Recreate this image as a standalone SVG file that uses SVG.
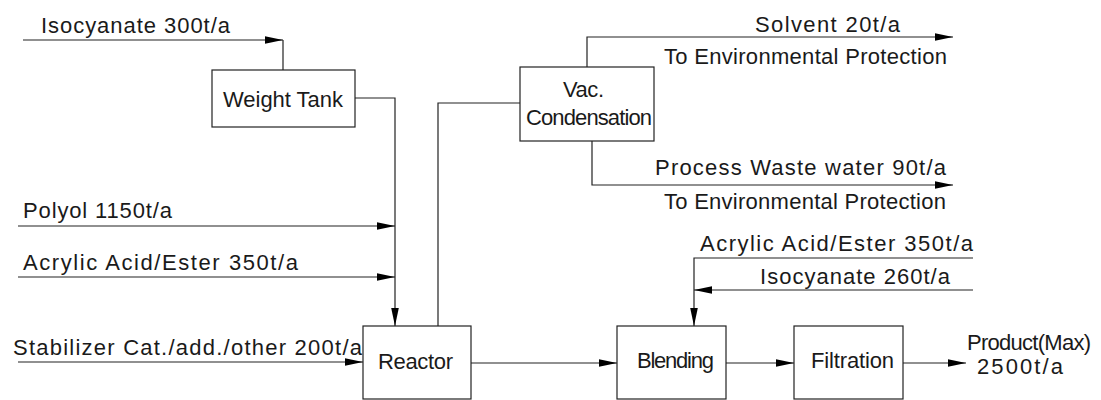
<svg xmlns="http://www.w3.org/2000/svg" width="1101" height="400" viewBox="0 0 1101 400">
  <style>
    text { font-family: "Liberation Sans", Arial, sans-serif; font-size: 22px; fill: #1a1a1a; }
    .box { fill: #fff; stroke: #222; stroke-width: 1.2; }
    .flow { fill: none; stroke: #222; stroke-width: 1.2; }
    .arr { marker-end: url(#head); }
  </style>
  <defs>
    <marker id="head" markerUnits="userSpaceOnUse" markerWidth="20" markerHeight="10" refX="18" refY="4.5" orient="auto">
      <path d="M0,0.7 L18,4.5 L0,8.3 Z" fill="#000"/>
    </marker>
  </defs>
  <rect width="1101" height="400" fill="#fff"/>

  <!-- process connections -->
  <g id="connectors">
    <path class="flow arr" d="M23,40 H283"/>
    <path class="flow" d="M283,40 V70"/>
    <path class="flow arr" d="M355,98 H395 V326"/>
    <path class="flow arr" d="M18,226 H395"/>
    <path class="flow arr" d="M18,277 H395"/>
    <path class="flow arr" d="M18,362 H363"/>
    <path class="flow" d="M438,326 V103 H520"/>
    <path class="flow arr" d="M587,67 V37 H953"/>
    <path class="flow arr" d="M592,141 V185 H953"/>
    <path class="flow arr" d="M471,363 H617"/>
    <path class="flow arr" d="M726,363 H794"/>
    <path class="flow arr" d="M903,363 H966"/>
    <path class="flow arr" d="M973,258 H694 V326"/>
    <path class="flow arr" d="M973,290 H694"/>
  </g>

  <!-- stream labels -->
  <g id="labels">
    <text x="41" y="33" textLength="189" lengthAdjust="spacing">Isocyanate 300t/a</text>
    <text x="23" y="218" textLength="149" lengthAdjust="spacing">Polyol 1150t/a</text>
    <text x="23" y="270" textLength="275" lengthAdjust="spacing">Acrylic Acid/Ester 350t/a</text>
    <text x="13" y="355" textLength="349" lengthAdjust="spacing">Stabilizer Cat./add./other 200t/a</text>
    <text x="755" y="32" textLength="145" lengthAdjust="spacing">Solvent 20t/a</text>
    <text x="664" y="64" textLength="283" lengthAdjust="spacing">To Environmental Protection</text>
    <text x="655" y="175" textLength="291" lengthAdjust="spacing">Process Waste water 90t/a</text>
    <text x="664" y="209" textLength="282" lengthAdjust="spacing">To Environmental Protection</text>
    <text x="700" y="251" textLength="273" lengthAdjust="spacing">Acrylic Acid/Ester 350t/a</text>
    <text x="760" y="284" textLength="190" lengthAdjust="spacing">Isocyanate 260t/a</text>
    <text x="967" y="350" textLength="124" lengthAdjust="spacing">Product(Max)</text>
    <text x="977" y="374" textLength="86" lengthAdjust="spacing">2500t/a</text>
  </g>

  <g id="weight-tank">
    <rect class="box" x="212" y="70" width="143" height="57"/>
    <text x="223" y="107" textLength="120" lengthAdjust="spacing">Weight Tank</text>
  </g>

  <g id="vac-condensation">
    <rect class="box" x="520" y="67" width="134" height="74"/>
    <text x="563" y="97" textLength="41" lengthAdjust="spacing">Vac.</text>
    <text x="526" y="125" textLength="126" lengthAdjust="spacing">Condensation</text>
  </g>

  <g id="reactor">
    <rect class="box" x="363" y="326" width="108" height="73"/>
    <text x="378" y="369" textLength="75" lengthAdjust="spacing">Reactor</text>
  </g>

  <g id="blending">
    <rect class="box" x="617" y="326" width="109" height="73"/>
    <text x="637" y="368" textLength="77" lengthAdjust="spacing">Blending</text>
  </g>

  <g id="filtration">
    <rect class="box" x="794" y="326" width="109" height="73"/>
    <text x="811" y="368" textLength="83" lengthAdjust="spacing">Filtration</text>
  </g>
</svg>
